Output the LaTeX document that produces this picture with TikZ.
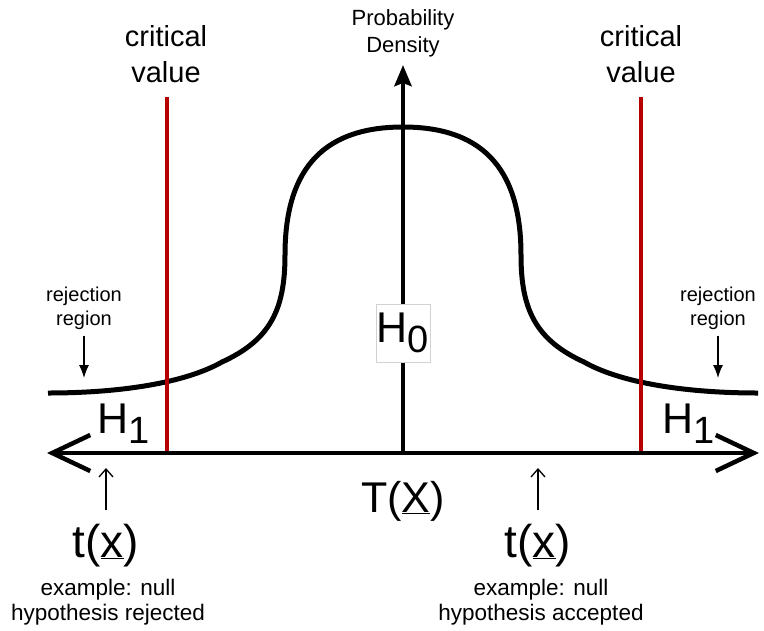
\documentclass[tikz,border=0pt]{standalone}
\usepackage{fontspec}
\setmainfont{Liberation Sans}
\usepackage{xcolor}
\usetikzlibrary{arrows.meta, positioning}
\definecolor{critred}{RGB}{180,0,0}
\newcommand{\hyp}[1]{H\raisebox{-10pt}{\fontsize{38}{38}\selectfont #1}}
\tikzstyle{axis} = [line width=4.5pt, black]
\tikzstyle{crit} = [line width=4.5pt, critred]
\tikzstyle{density} = [line width=5pt, black]
\tikzstyle{big} = [font=\fontsize{46}{50}\selectfont, inner sep=0pt]
\tikzstyle{hyplbl} = [font=\fontsize{43}{50}\selectfont, inner sep=0pt]
\tikzstyle{note} = [align=center, inner sep=0pt]
\tikzstyle{pdown} = [-{Latex[length=13pt, width=10pt]}, line width=1.3pt]
\tikzstyle{pup} = [-{Straight Barb[length=8pt, width=14pt]}, line width=1.3pt]

\begin{document}
\begin{tikzpicture}[x=1pt, y=-1pt]
  \useasboundingbox (0,0) rectangle (764,630);
  % density curve
  \draw[density] (48,393) .. controls (120,393) and (185,383) .. (222,362)
    .. controls (270,340) and (285,310) .. (285,255)
    .. controls (285,175) and (318,127) .. (403,127)
    .. controls (488,127) and (521,175) .. (521,255)
    .. controls (521,310) and (536,340) .. (584,362)
    .. controls (621,383) and (686,393) .. (758,393);
  % critical values
  \node[note, font=\fontsize{29}{36}\selectfont] (critL) at (166,54) {critical\\value};
  \node[note, font=\fontsize{29}{36}\selectfont] (critR) at (641,54) {critical\\value};
  \coordinate (critLtop) at (167,97);
  \coordinate (critLbot) at (167,453);
  \coordinate (critRtop) at (641,97);
  \coordinate (critRbot) at (641,453);
  \draw[crit] (critLtop) -- (critLbot);
  \draw[crit] (critRtop) -- (critRbot);
  % axes
  \coordinate (o) at (403,453);
  \coordinate (xl) at (47,453);
  \coordinate (xr) at (759,453);
  \coordinate (ytop) at (403,65);
  \draw[axis, {Straight Barb[length=38pt, width=36pt]}-{Straight Barb[length=38pt, width=36pt]}] (xl) -- (xr);
  \draw[axis, -{Stealth[length=21pt, width=17pt, inset=3pt]}] (o) -- (ytop);
  \node[note, font=\fontsize{22}{27}\selectfont] (pd) at (403,33) {Probability\\Density};
  \node[big, font=\fontsize{43}{50}\selectfont, anchor=base] (stat) at (403,512) {T(\underline{X})};
  % hypotheses
  \node[hyplbl, draw=gray!35, fill=white, line width=0.8pt, inner xsep=1pt, inner ysep=9pt] (h0) at (403,333) {\hyp{0}};
  \node[hyplbl, anchor=base west] (h1L) at (97,433) {\hyp{1}};
  \node[hyplbl, anchor=base west] (h1R) at (662,433) {\hyp{1}};
  % rejection regions
  \node[note, font=\fontsize{20}{24}\selectfont] (rejL) at (84,308) {rejection\\region};
  \node[note, font=\fontsize{20}{24}\selectfont] (rejR) at (718,308) {rejection\\region};
  \coordinate (rejLtip) at (84,378);
  \coordinate (rejRtip) at (718,378);
  \draw[pdown, shorten <=6pt] (rejL) -- (rejLtip);
  \draw[pdown, shorten <=6pt] (rejR) -- (rejRtip);
  % observed statistics
  \node[big, anchor=base] (tL) at (106,557) {t(\underline{x})};
  \node[big, anchor=base] (tR) at (538,557) {t(\underline{x})};
  \coordinate (tLtip) at (106,468);
  \coordinate (tRtip) at (538,468);
  \draw[pup, shorten <=13pt] (tL) -- (tLtip);
  \draw[pup, shorten <=13pt] (tR) -- (tRtip);
  \node[note, font=\fontsize{22.5}{25}\selectfont] (exL) at (108,602) {example: null\\hypothesis rejected};
  \node[note, font=\fontsize{22.5}{25}\selectfont] (exR) at (541,602) {example: null\\hypothesis accepted};
\end{tikzpicture}
\end{document}
